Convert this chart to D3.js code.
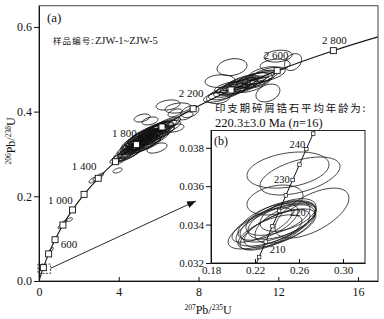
<!DOCTYPE html>
<html>
<head>
<meta charset="utf-8">
<script src="https://cdn.jsdelivr.net/npm/d3@7"></script>
<style>
  body { margin: 0; background: #fff; }
  svg { display: block; }
</style>
</head>
<body>
<div id="chart"></div>
<script>
// concordia reference points (age in Ma, 207Pb/235U, 206Pb/238U)
const concAges = [0, 200, 400, 600, 800, 1000, 1200, 1400, 1600, 1800, 2000, 2200, 2400, 2600, 2800, 2935];
const concX = [0, 0.2177, 0.4828, 0.8056, 1.1988, 1.6774, 2.2603, 2.9701, 3.8344, 4.8863, 6.1685, 7.7292, 9.6296, 11.9437, 14.7617, 17.0];
const concY = [0, 0.03151, 0.06402, 0.09754, 0.13213, 0.16782, 0.20460, 0.24256, 0.28172, 0.32210, 0.36376, 0.40674, 0.45107, 0.49679, 0.54396, 0.5766];
const markerAges = [200, 400, 600, 800, 1000, 1200, 1400, 1600, 1800, 2000, 2200, 2400, 2600, 2800];
const labelAges = [600, 1000, 1400, 1800, 2200, 2600, 2800];
const labelText = ["600", "1 000", "1 400", "1 800", "2 200", "2 600", "2 800"];

// concordia in the inset (b)
const insetAges = [200, 205, 210, 215, 220, 225, 230, 235, 240, 245, 250];
const insetX = [0.21771, 0.22372, 0.22976, 0.23583, 0.24193, 0.24806, 0.25422, 0.26041, 0.26664, 0.27289, 0.27917];
const insetY = [0.031511, 0.032311, 0.033113, 0.033914, 0.034716, 0.035519, 0.036323, 0.037127, 0.037932, 0.038737, 0.039543];
const insetLabelAges = [210, 220, 230, 240];

// ticks
const xTicks = [0, 4, 8, 12, 16];
const yTicks = [0, 0.2, 0.4, 0.6];
const insetXTicks = [0.18, 0.22, 0.26, 0.30];
const insetYTicks = [0.032, 0.034, 0.036, 0.038];

// zircon analyses: [207Pb/235U, 206Pb/238U, err x, err y, rho]
const grainsMain = [
  [0.60, 0.073, 0.12, 0.006, 0.8], [1.10, 0.130, 0.15, 0.006, 0.8], [1.23, 0.137, 0.17, 0.007, 0.8],
  [1.53, 0.145, 0.15, 0.0043, 0.5], [2.71, 0.2385, 0.20, 0.007, 0.7], [2.91, 0.2432, 0.20, 0.007, 0.7],
  [3.06, 0.248, 0.18, 0.007, 0.7], [3.94, 0.261, 0.23, 0.006, 0.5], [4.14, 0.2857, 0.18, 0.007, 0.6],
  [4.10, 0.292, 0.55, 0.014, 0.8], [4.25, 0.297, 0.60, 0.015, 0.8], [4.40, 0.303, 0.65, 0.015, 0.75],
  [4.55, 0.308, 0.60, 0.016, 0.8], [4.62, 0.314, 0.70, 0.015, 0.75], [4.75, 0.316, 0.65, 0.017, 0.8],
  [4.82, 0.321, 0.75, 0.016, 0.75], [4.90, 0.318, 0.70, 0.015, 0.8], [5.00, 0.326, 0.80, 0.018, 0.75],
  [5.08, 0.330, 0.65, 0.016, 0.8], [5.15, 0.324, 0.75, 0.017, 0.8], [5.22, 0.334, 0.85, 0.018, 0.7],
  [5.30, 0.331, 0.70, 0.016, 0.8], [5.36, 0.339, 0.75, 0.018, 0.75], [5.42, 0.335, 0.80, 0.016, 0.75],
  [5.50, 0.343, 0.70, 0.017, 0.8], [5.56, 0.339, 0.80, 0.018, 0.75], [5.64, 0.347, 0.65, 0.016, 0.8],
  [5.72, 0.344, 0.85, 0.019, 0.7], [5.80, 0.352, 0.75, 0.017, 0.75], [5.86, 0.348, 0.70, 0.016, 0.8],
  [5.96, 0.356, 0.80, 0.018, 0.7], [6.05, 0.359, 0.70, 0.017, 0.75], [6.15, 0.364, 0.75, 0.016, 0.8],
  [6.26, 0.361, 0.85, 0.018, 0.7], [6.40, 0.370, 0.70, 0.017, 0.75], [4.95, 0.331, 0.60, 0.014, 0.8],
  [5.28, 0.345, 0.70, 0.015, 0.75], [5.60, 0.352, 0.65, 0.016, 0.8], [4.70, 0.324, 0.60, 0.014, 0.8],
  [5.12, 0.317, 0.70, 0.015, 0.7], [5.45, 0.327, 0.65, 0.015, 0.75], [5.78, 0.337, 0.70, 0.016, 0.7],
  [6.02, 0.348, 0.75, 0.017, 0.75], [4.50, 0.298, 0.55, 0.014, 0.8], [5.05, 0.338, 0.60, 0.014, 0.75],
  [5.40, 0.322, 0.70, 0.015, 0.75], [5.90, 0.362, 0.65, 0.015, 0.8],
  [4.85, 0.328, 0.70, 0.017, 0.7], [5.20, 0.340, 0.75, 0.018, 0.7], [5.50, 0.350, 0.80, 0.017, 0.75],
  [5.70, 0.356, 0.70, 0.016, 0.75], [4.60, 0.305, 0.65, 0.016, 0.7], [5.00, 0.315, 0.70, 0.016, 0.75],
  [5.35, 0.326, 0.75, 0.017, 0.7], [5.65, 0.336, 0.75, 0.016, 0.75], [6.10, 0.352, 0.70, 0.016, 0.7],
  [6.30, 0.366, 0.75, 0.017, 0.75], [4.40, 0.296, 0.60, 0.015, 0.8], [5.10, 0.335, 0.80, 0.019, 0.7],
  [5.92, 0.314, 0.50, 0.012, 0.5], [4.46, 0.3046, 0.30, 0.007, 0.5], [6.82, 0.361, 0.45, 0.0094, 0.4],
  [5.17, 0.385, 0.40, 0.0094, 0.4], [5.57, 0.378, 0.40, 0.0094, 0.4], [6.82, 0.397, 0.35, 0.0094, 0.5],
  [7.37, 0.390, 0.35, 0.0094, 0.5], [6.47, 0.4156, 0.60, 0.012, 0.3], [6.97, 0.4085, 0.65, 0.012, 0.3],
  [7.57, 0.400, 0.45, 0.014, 0.4],
  [8.98, 0.432, 0.58, 0.013, 0.2], [9.68, 0.505, 0.75, 0.020, 0.2], [11.84, 0.510, 0.75, 0.014, 0.2],
  [11.48, 0.444, 0.60, 0.021, 0.3], [9.08, 0.472, 0.75, 0.015, 0.1], [11.99, 0.531, 0.70, 0.014, 0.2],
  [12.74, 0.517, 0.43, 0.020, 0.3],
  [9.0, 0.436, 0.75, 0.014, 0.6], [9.3, 0.443, 0.80, 0.015, 0.55], [9.6, 0.450, 0.85, 0.016, 0.6],
  [9.8, 0.452, 0.75, 0.014, 0.65], [10.0, 0.458, 0.90, 0.017, 0.55], [10.2, 0.462, 0.80, 0.015, 0.6],
  [10.4, 0.465, 0.85, 0.016, 0.6], [10.6, 0.470, 0.75, 0.014, 0.65], [10.8, 0.474, 0.90, 0.018, 0.55],
  [11.0, 0.479, 0.80, 0.015, 0.6], [11.2, 0.482, 0.75, 0.016, 0.6], [11.5, 0.488, 0.85, 0.017, 0.55],
  [9.9, 0.462, 0.70, 0.013, 0.6], [10.5, 0.460, 0.80, 0.015, 0.5], [10.3, 0.472, 0.75, 0.014, 0.6],
  [10.9, 0.468, 0.70, 0.013, 0.6], [11.3, 0.492, 0.75, 0.014, 0.55], [9.5, 0.458, 0.70, 0.013, 0.6],
  [10.1, 0.466, 0.80, 0.015, 0.6], [10.7, 0.476, 0.80, 0.016, 0.6], [9.7, 0.455, 0.80, 0.015, 0.55]
];

// Indosinian grains (n=16) shown in inset (b)
const grainsInset = [
  [0.2500, 0.03684, 0.0373, 0.00094, 0.3], [0.2609, 0.03653, 0.0364, 0.00099, 0.5],
  [0.2382, 0.03528, 0.0255, 0.00078, 0.3], [0.2718, 0.03460, 0.0336, 0.00130, 0.6],
  [0.2355, 0.03393, 0.0400, 0.00120, 0.7], [0.2391, 0.03398, 0.0364, 0.00110, 0.65],
  [0.2409, 0.03414, 0.0345, 0.00105, 0.6], [0.2427, 0.03382, 0.0327, 0.00100, 0.65],
  [0.2445, 0.03424, 0.0309, 0.00100, 0.55], [0.2382, 0.03372, 0.0318, 0.00105, 0.7],
  [0.2336, 0.03361, 0.0291, 0.00090, 0.65], [0.2473, 0.03403, 0.0273, 0.00100, 0.55],
  [0.2409, 0.03434, 0.0291, 0.00090, 0.55], [0.2318, 0.03414, 0.0273, 0.00095, 0.6],
  [0.2264, 0.03398, 0.0273, 0.00090, 0.7], [0.2500, 0.03450, 0.0255, 0.00085, 0.5]
];

const width = 384, height = 319;
const serif = "'Liberation Serif', 'Times New Roman', serif";
const cjk = "'Noto Sans CJK SC', sans-serif";

const svg = d3.select("#chart").append("svg")
  .attr("width", width).attr("height", height)
  .style("background", "#fff");

const x = d3.scaleLinear().domain([0, 17]).range([39, 378]);
const y = d3.scaleLinear().domain([0, 0.65]).range([281, 5.75]);

const xi = d3.scaleLinear().domain([0.18, 0.32]).range([211, 365]);
const yi = d3.scaleLinear().domain([0.032, 0.0389]).range([263, 130.5]);

const defs = svg.append("defs");
defs.append("clipPath").attr("id", "clipMain").append("rect")
  .attr("x", 39).attr("y", y(0.65)).attr("width", 339).attr("height", 281 - y(0.65));
defs.append("clipPath").attr("id", "clipInset").append("rect")
  .attr("x", 211).attr("y", yi(0.0389)).attr("width", 154).attr("height", 263 - yi(0.0389));
defs.append("marker").attr("id", "arrow")
  .attr("markerUnits", "userSpaceOnUse")
  .attr("markerWidth", 9).attr("markerHeight", 7)
  .attr("refX", 9).attr("refY", 3.5).attr("orient", "auto")
  .append("path").attr("d", "M0,0 L9,3.5 L0,7 z").attr("fill", "#111");

// error ellipse outline from errors + correlation
function ellipse(g, xs, ys) {
  const [cx, cy, sx, sy, r] = g;
  const q = Math.sqrt(1 - r * r);
  return d3.range(49).map(i => {
    const t = i / 48 * 2 * Math.PI;
    return [xs(cx + sx * Math.cos(t)), ys(cy + sy * (r * Math.cos(t) + q * Math.sin(t)))];
  });
}
const lineGen = d3.line();

// ---------- main plot (a) ----------
const main = svg.append("g").attr("clip-path", "url(#clipMain)");

main.selectAll("path.grain")
  .data(grainsMain.concat(grainsInset))
  .join("path")
    .attr("class", "grain")
    .attr("d", d => lineGen(ellipse(d, x, y)) + "Z")
    .attr("fill", "none")
    .attr("stroke", "#111")
    .attr("stroke-width", 0.85);

main.append("path")
  .datum(concAges.map((a, i) => [concX[i], concY[i]]))
  .attr("d", d3.line().x(d => x(d[0])).y(d => y(d[1])).curve(d3.curveCatmullRom))
  .attr("fill", "none")
  .attr("stroke", "#111")
  .attr("stroke-width", 1.1);

const ms = 6;
main.selectAll("rect.mk")
  .data(markerAges)
  .join("rect")
    .attr("class", "mk")
    .attr("x", a => x(concX[concAges.indexOf(a)]) - ms / 2)
    .attr("y", a => y(concY[concAges.indexOf(a)]) - ms / 2)
    .attr("width", ms).attr("height", ms)
    .attr("fill", "#fff")
    .attr("stroke", "#111")
    .attr("stroke-width", 0.9);

// age labels on the concordia
const labelOff = {600: [14, 8], 1000: [-12, -6], 1400: [-14, -8], 1800: [-12, -8], 2200: [-2, -12], 2600: [-1, -12], 2800: [1, -7]};
svg.selectAll("text.age")
  .data(labelAges)
  .join("text")
    .attr("class", "age")
    .attr("x", a => x(concX[concAges.indexOf(a)]) + labelOff[a][0])
    .attr("y", a => y(concY[concAges.indexOf(a)]) + labelOff[a][1])
    .attr("text-anchor", "middle")
    .attr("font-family", serif)
    .attr("font-size", 11)
    .attr("fill", "#111")
    .text((a, i) => labelText[i]);

// dashed zoom box near the origin and the arrow to (b)
svg.append("rect")
  .attr("x", x(-0.05)).attr("y", y(0.040))
  .attr("width", x(0.58) - x(-0.05)).attr("height", y(0.018) - y(0.040))
  .attr("fill", "none").attr("stroke", "#111").attr("stroke-width", 0.8)
  .attr("stroke-dasharray", "2,1.5");
svg.append("line")
  .attr("x1", x(0.58)).attr("y1", y(0.030))
  .attr("x2", x(7.87)).attr("y2", y(0.189))
  .attr("stroke", "#111").attr("stroke-width", 0.9)
  .attr("marker-end", "url(#arrow)");

// frame
svg.append("rect")
  .attr("x", 39).attr("y", y(0.65)).attr("width", 339).attr("height", 281 - y(0.65))
  .attr("fill", "none").attr("stroke", "#444").attr("stroke-width", 1);

// axes
const xAxis = svg.append("g")
  .attr("transform", "translate(0,281)")
  .call(d3.axisBottom(x).tickValues(xTicks).tickSizeInner(-4).tickSizeOuter(0).tickPadding(6).tickFormat(d3.format("d")));
const yAxis = svg.append("g")
  .attr("transform", "translate(39,0)")
  .call(d3.axisLeft(y).tickValues(yTicks).tickSizeInner(5).tickSizeOuter(0).tickPadding(2).tickFormat(d3.format(".1f")));
[xAxis, yAxis].forEach(g => {
  g.attr("font-family", serif).attr("font-size", 12);
  g.selectAll("line, path").attr("stroke", "#111");
  g.selectAll("text").attr("fill", "#111");
});

// axis titles
const xt = svg.append("text").attr("x", 208).attr("y", 314).attr("text-anchor", "middle")
  .attr("font-family", serif).attr("font-size", 12).attr("fill", "#111");
xt.append("tspan").attr("font-size", 7.5).attr("dy", -4).text("207");
xt.append("tspan").attr("dy", 4).text("Pb/");
xt.append("tspan").attr("font-size", 7.5).attr("dy", -4).text("235");
xt.append("tspan").attr("dy", 4).text("U");

const yt = svg.append("text").attr("transform", "translate(15,141) rotate(-90)").attr("text-anchor", "middle")
  .attr("font-family", serif).attr("font-size", 12).attr("fill", "#111");
yt.append("tspan").attr("font-size", 7.5).attr("dy", -4).text("206");
yt.append("tspan").attr("dy", 4).text("Pb/");
yt.append("tspan").attr("font-size", 7.5).attr("dy", -4).text("238");
yt.append("tspan").attr("dy", 4).text("U");

// annotations
svg.append("text").attr("x", 47).attr("y", 22)
  .attr("font-family", serif).attr("font-size", 13).attr("fill", "#111").text("(a)");
const sample = svg.append("text").attr("x", 53).attr("y", 43.5).attr("fill", "#111");
sample.append("tspan").attr("font-family", cjk).attr("font-size", 8.5).attr("letter-spacing", 1.1).text("样品编号:");
sample.append("tspan").attr("font-family", serif).attr("font-size", 10.5).text("ZJW-1~ZJW-5");

svg.append("text").attr("x", 215).attr("y", 111.5)
  .attr("font-family", cjk).attr("font-size", 10.5).attr("letter-spacing", 1.8).attr("fill", "#111")
  .text("印支期碎屑锆石平均年龄为:");
const mean = svg.append("text").attr("x", 215).attr("y", 127)
  .attr("font-family", serif).attr("font-size", 12.5).attr("fill", "#111");
mean.append("tspan").text("220.3±3.0 Ma (");
mean.append("tspan").attr("font-style", "italic").text("n");
mean.append("tspan").text("=16)");

// ---------- inset (b) ----------
svg.append("rect")
  .attr("x", 211).attr("y", yi(0.0389)).attr("width", 154).attr("height", 263 - yi(0.0389))
  .attr("fill", "#fff");

const inset = svg.append("g").attr("clip-path", "url(#clipInset)");
inset.selectAll("path.ig")
  .data(grainsInset)
  .join("path")
    .attr("class", "ig")
    .attr("d", d => lineGen(ellipse(d, xi, yi)) + "Z")
    .attr("fill", "none")
    .attr("stroke", "#1a1a1a")
    .attr("stroke-width", 0.8);

inset.append("path")
  .datum(insetAges.map((a, i) => [insetX[i], insetY[i]]))
  .attr("d", d3.line().x(d => xi(d[0])).y(d => yi(d[1])))
  .attr("fill", "none")
  .attr("stroke", "#111")
  .attr("stroke-width", 1);

const ims = 3.5;
inset.selectAll("rect.imk")
  .data(insetAges.filter(a => a > 200 && a < 250))
  .join("rect")
    .attr("class", "imk")
    .attr("x", a => xi(insetX[insetAges.indexOf(a)]) - ims / 2)
    .attr("y", a => yi(insetY[insetAges.indexOf(a)]) - ims / 2)
    .attr("width", ims).attr("height", ims)
    .attr("fill", "#fff")
    .attr("stroke", "#111")
    .attr("stroke-width", 0.7);

const insetOff = {210: [4, 11, "start"], 220: [11, 5, "start"], 230: [-3, 3, "end"], 240: [-1, -1, "end"]};
svg.selectAll("text.iage")
  .data(insetLabelAges)
  .join("text")
    .attr("class", "iage")
    .attr("x", a => xi(insetX[insetAges.indexOf(a)]) + insetOff[a][0])
    .attr("y", a => yi(insetY[insetAges.indexOf(a)]) + insetOff[a][1])
    .attr("text-anchor", a => insetOff[a][2])
    .attr("font-family", serif)
    .attr("font-size", 10.5)
    .attr("fill", "#111")
    .text(a => a);

svg.append("rect")
  .attr("x", 211).attr("y", yi(0.0389)).attr("width", 154).attr("height", 263 - yi(0.0389))
  .attr("fill", "none").attr("stroke", "#111").attr("stroke-width", 0.9);

const ixAxis = svg.append("g")
  .attr("transform", "translate(0,263)")
  .call(d3.axisBottom(xi).tickValues(insetXTicks).tickSizeInner(-4).tickSizeOuter(0).tickPadding(3).tickFormat(d3.format(".2f")));
const iyAxis = svg.append("g")
  .attr("transform", "translate(211,0)")
  .call(d3.axisLeft(yi).tickValues(insetYTicks).tickSizeInner(5).tickSizeOuter(0).tickPadding(2).tickFormat(d3.format(".3f")));
[ixAxis, iyAxis].forEach(g => {
  g.attr("font-family", serif).attr("font-size", 11);
  g.selectAll("line, path").attr("stroke", "#111");
  g.selectAll("text").attr("fill", "#111");
});

svg.append("text").attr("x", 214).attr("y", 145)
  .attr("font-family", serif).attr("font-size", 12).attr("fill", "#111").text("(b)");
</script>
</body>
</html>
